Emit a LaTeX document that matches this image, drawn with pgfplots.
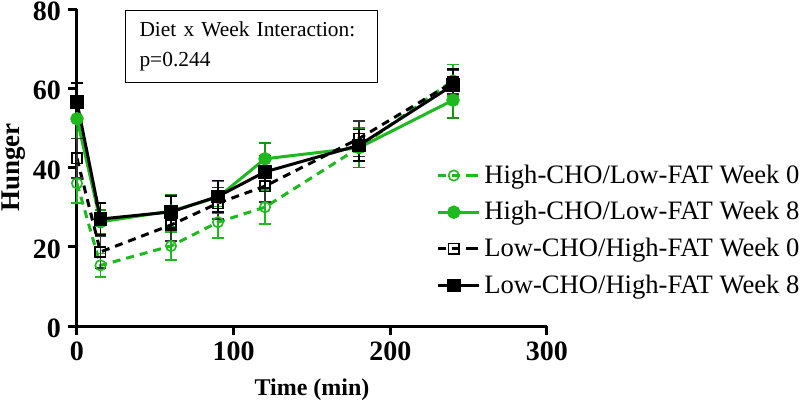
\documentclass[border=0pt]{standalone}
\usepackage{pgfplots}
\pgfplotsset{compat=1.18}
\usepackage{pgfplotstable}
\usepackage{fontspec}
\setmainfont{Liberation Serif}

\definecolor{dietgreen}{RGB}{30,185,30}

% time  mean  sem
\pgfplotstableread{
t   y     e
0   36    5
15  15.3  3
60  20.2  3.5
90  26.2  4
120 30    4.3
180 45    5
240 62    4
}\hcweekzero
\pgfplotstableread{
t   y     e
0   52.3  5
15  26.3  3
60  29    4
90  32.5  4
120 42.2  4
180 45    5
240 57    4.5
}\hcweekeight
\pgfplotstableread{
t   y     e
0   42.3  5
15  18.7  4
60  25.5  4
90  31    4
120 35.3  4
180 47.3  4.5
240 61.5  3
}\lcweekzero
\pgfplotstableread{
t   y     e
0   56.5  4.8
15  27    4
60  28.8  4
90  32.7  4
120 38.9  4
180 45.6  4
240 60.8  4
}\lcweekeight

\begin{document}
\begin{tikzpicture}
\useasboundingbox (-38.5pt,-39pt) rectangle (361.5pt,163pt);
\begin{axis}[
    at={(0,0)}, anchor=south west,
    scale only axis,
    width=235pt, height=158.5pt,
    xmin=0, xmax=300, ymin=0, ymax=80,
    axis lines*=left,
    axis line style={line width=1.5pt},
    tick style={line width=1.5pt, black},
    tick align=outside,
    major tick length=4.5pt,
    xtick={0,100,200,300},
    ytick={0,20,40,60,80},
    ticklabel style={font=\fontsize{14}{16}\selectfont\bfseries},
    yticklabel style={yshift=-1.2pt},
    /pgf/number format/assume math mode=true,
    xlabel={Time (min)},
    ylabel={Hunger},
    xlabel style={font=\fontsize{12}{14}\selectfont\bfseries, yshift=-2pt},
    ylabel style={font=\fontsize{13.5}{14}\selectfont\bfseries, yshift=-3pt},
    clip=false,
    legend style={at={(0.751,0.535)}, anchor=north west, draw=none, fill=none,
        font=\fontsize{13.3}{15}\selectfont, row sep=3.6pt,
        /tikz/every even column/.append style={column sep=4pt}},
    legend cell align=left,
    legend image code/.code={
        \draw[mark repeat=2, mark phase=2]
            plot coordinates {(0cm,0cm) (0.28cm,0cm) (0.56cm,0cm)};
        \path (0.56cm,0cm) -- (0.72cm,0cm);
    },
    error bars/y dir=both, error bars/y explicit,
    error bars/error mark options={rotate=90, mark size=2.8pt, line width=0.8pt},
    error bars/error bar style={line width=0.8pt},
]
\addplot[dietgreen, line width=1.5pt, dash pattern=on 4pt off 3pt,
    mark=o, mark size=2.6pt, mark options={solid, fill=white, line width=0.8pt},
    error bars/error bar style={solid, dietgreen, line width=0.8pt}]
    table[x=t, y=y, y error=e] {\hcweekzero};
\addlegendentry{High-CHO/Low-FAT Week 0}
\addplot[dietgreen, line width=1.5pt,
    mark=*, mark size=2.6pt, mark options={solid, fill=dietgreen},
    error bars/error bar style={solid, dietgreen!80!black, line width=0.8pt}]
    table[x=t, y=y, y error=e] {\hcweekeight};
\addlegendentry{High-CHO/Low-FAT Week 8}
\addplot[black, line width=1.5pt, dash pattern=on 4pt off 3pt,
    mark=square, mark size=2.6pt, mark options={solid, fill=white, line width=0.8pt},
    error bars/error bar style={solid, black!80, line width=0.8pt}]
    table[x=t, y=y, y error=e] {\lcweekzero};
\addlegendentry{Low-CHO/High-FAT Week 0}
\addplot[black, line width=1.5pt,
    mark=square*, mark size=2.6pt, mark options={solid, fill=black},
    error bars/error bar style={solid, black, line width=0.8pt}]
    table[x=t, y=y, y error=e] {\lcweekeight};
\addlegendentry{Low-CHO/High-FAT Week 8}
\node[draw, line width=0.6pt, anchor=north west, align=left,
      text width=112pt, minimum height=36pt, inner xsep=7pt, inner ysep=5pt,
      font=\fontsize{10.7}{16}\selectfont]
    at (rel axis cs:0.102,0.997) {Diet x Week Interaction:\\[-1pt]p=0.244};
\end{axis}
\end{tikzpicture}
\end{document}
